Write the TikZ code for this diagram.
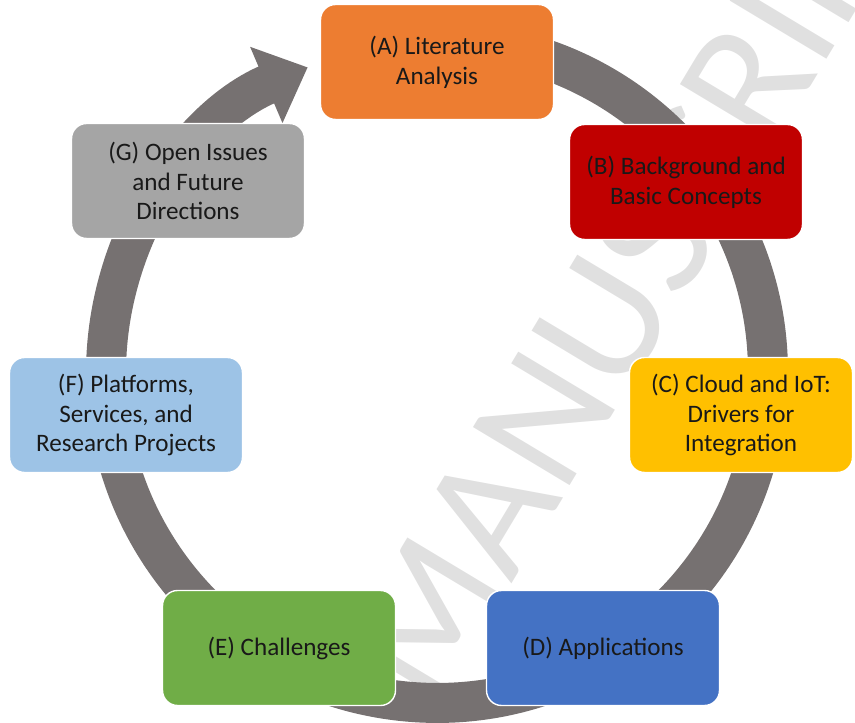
\documentclass[tikz,border=0pt]{standalone}
\usepackage{fontspec}
\setmainfont{Carlito}
\usetikzlibrary{arrows.meta}
\definecolor{ringColor}{RGB}{118,113,113}
\definecolor{stageA}{RGB}{237,125,49}
\definecolor{stageB}{RGB}{192,0,0}
\definecolor{stageC}{RGB}{255,192,0}
\definecolor{stageD}{RGB}{68,114,196}
\definecolor{stageE}{RGB}{112,173,71}
\definecolor{stageF}{RGB}{157,195,230}
\definecolor{stageG}{RGB}{165,165,165}
\tikzstyle{stageBox} = [draw=white, line width=.8pt, rounded corners=.3cm, minimum width=4.66cm, minimum height=2.3cm, align=center, font=\fontsize{14.3}{17}\selectfont, text=black!90, inner sep=0pt]
\tikzstyle{ringStyle} = [color=ringColor, line width=.8cm, -{Triangle[width=1.6cm, length=.9cm]}]
\tikzstyle{markText} = [text=black!12, font=\fontsize{100}{100}\selectfont, rotate=59, inner sep=0pt]
\newcommand{\ringRadius}{6.62cm}
\newcommand{\stage}[5]{\node [stageBox, fill=#4] (#1) at (#2, #3) {#5};}

\begin{document}
\begin{tikzpicture}[x=.02cm, y=.02cm]
  \useasboundingbox (0,0) rectangle (855,723);
  \clip (0,0) rectangle (855,723);
  % watermark
  \node [markText] (mark) at (635,454) {MANUSCRIPT};
  % cycle ring
  \coordinate (hub) at (437,351);
  \draw [ringStyle] (hub) ++(85:\ringRadius) arc [start angle=85, end angle=-247, radius=\ringRadius];
  % stages
  \stage{litA}{437}{661}{stageA}{(A) Literature\\Analysis}
  \stage{backB}{686}{541}{stageB}{(B) Background and\\Basic Concepts}
  \node [stageBox, fill=stageC, minimum width=4.46cm] (cloudC) at (741,308) {(C) Cloud and IoT:\\Drivers for\\Integration};
  \stage{appD}{603}{75}{stageD}{(D) Applications}
  \stage{chalE}{279}{75}{stageE}{(E) Challenges}
  \stage{platF}{126}{308}{stageF}{(F) Platforms,\\Services, and\\Research Projects}
  \stage{openG}{188}{542}{stageG}{(G) Open Issues\\and Future\\Directions}
\end{tikzpicture}
\end{document}
